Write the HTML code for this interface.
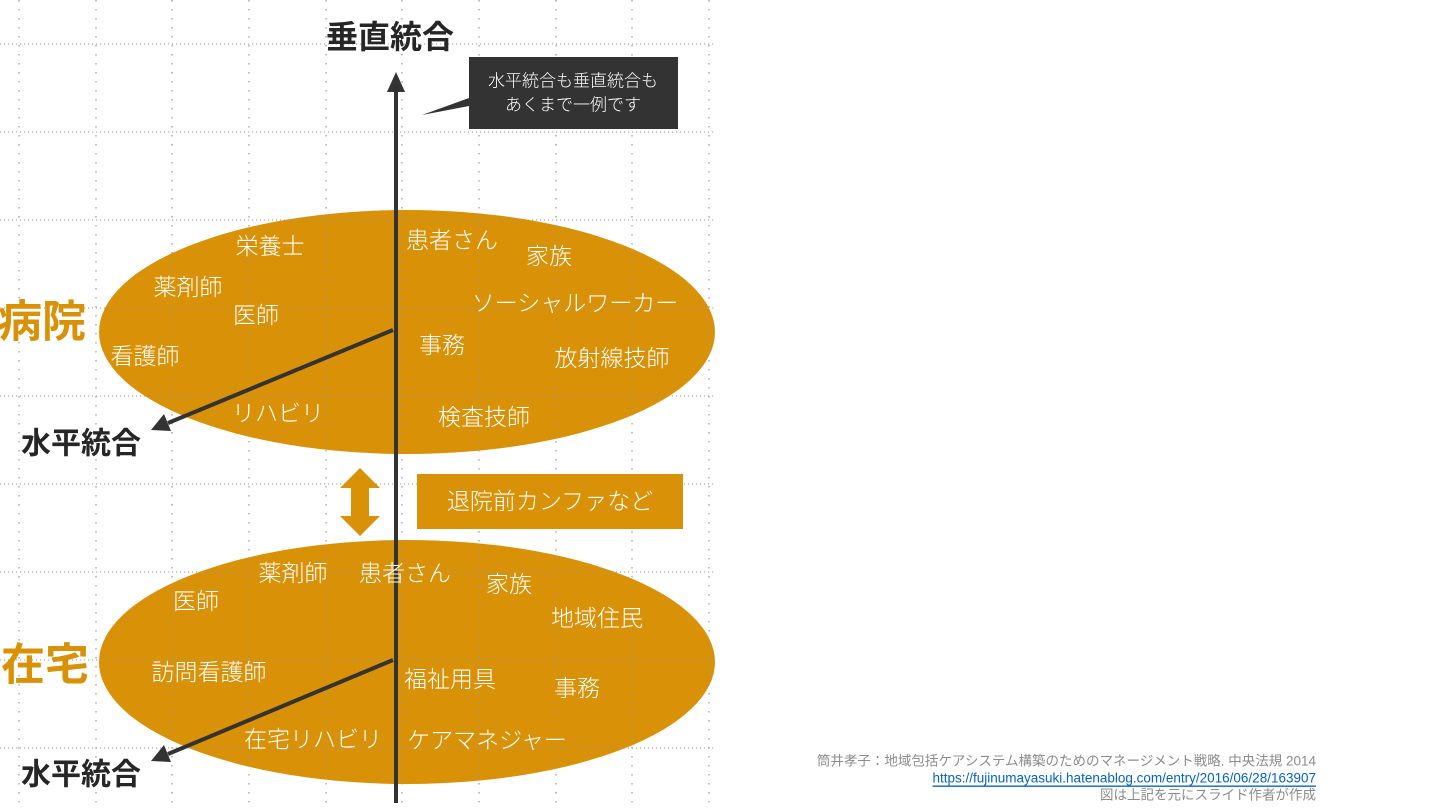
<!DOCTYPE html>
<html><head><meta charset="utf-8"><style>
html,body{margin:0;padding:0;background:#fff;}
svg{display:block;}
text{font-family:"Liberation Sans","Noto Sans CJK JP",sans-serif;}
.w{fill:#fff;font-size:23px;font-weight:300;text-anchor:middle;dominant-baseline:central;}
.b{fill:#262626;font-weight:bold;text-anchor:middle;dominant-baseline:central;}
.o{fill:#D99207;font-weight:bold;text-anchor:middle;dominant-baseline:central;font-size:44px;}
</style></head><body>
<svg width="1440" height="810" viewBox="0 0 1440 810" xmlns="http://www.w3.org/2000/svg">
<ellipse cx="407" cy="332" rx="308" ry="122" fill="#D99207"/>
<ellipse cx="407" cy="662" rx="308" ry="122" fill="#D99207"/>
<g stroke="#999" stroke-width="1.2" stroke-dasharray="1.2 2.8" opacity="0.8">
<line x1="0" y1="44" x2="715" y2="44"/><line x1="0" y1="132" x2="715" y2="132"/>
<line x1="0" y1="220" x2="715" y2="220"/><line x1="0" y1="308" x2="715" y2="308"/>
<line x1="0" y1="396" x2="715" y2="396"/><line x1="0" y1="484" x2="715" y2="484"/>
<line x1="0" y1="572" x2="715" y2="572"/><line x1="0" y1="660" x2="715" y2="660"/>
<line x1="0" y1="748" x2="715" y2="748"/>
</g>
<g stroke="#999" stroke-width="1.5" stroke-dasharray="1.5 7.5" opacity="0.8">
<line x1="19" y1="0" x2="19" y2="810"/><line x1="96" y1="0" x2="96" y2="810"/>
<line x1="172" y1="0" x2="172" y2="810"/><line x1="249" y1="0" x2="249" y2="810"/>
<line x1="326" y1="0" x2="326" y2="810"/><line x1="402" y1="0" x2="402" y2="810"/>
<line x1="479" y1="0" x2="479" y2="810"/><line x1="556" y1="0" x2="556" y2="810"/>
<line x1="632" y1="0" x2="632" y2="810"/><line x1="709" y1="0" x2="709" y2="810"/>
</g>
<line x1="396" y1="803" x2="396" y2="90" stroke="#333" stroke-width="4"/>
<path d="M387,92 L396,72 L405,92 z" fill="#333"/>
<line x1="393" y1="330" x2="168" y2="423" stroke="#333" stroke-width="4"/>
<path d="M151,430 L164,414 L171,431 z" fill="#333"/>
<line x1="393" y1="660" x2="168" y2="754" stroke="#333" stroke-width="4"/>
<path d="M151,761 L164,745 L171,762 z" fill="#333"/>
<path d="M469,57 H678 V129 H469 V106 L422,115 L469,98 z" fill="#333"/>
<text x="573" y="81" fill="#fff" font-size="17" text-anchor="middle" dominant-baseline="central" font-weight="300">水平統合も垂直統合も</text>
<text x="573" y="105" fill="#fff" font-size="17" text-anchor="middle" dominant-baseline="central" font-weight="300">あくまで一例です</text>
<path d="M360,468 L380,488 L369,488 L369,516 L380,516 L360,536 L340,516 L351,516 L351,488 L340,488 z" fill="#D99207"/>
<rect x="417" y="474" width="266" height="55" fill="#D99207"/>
<text x="550" y="501" class="w" font-size="25">退院前カンファなど</text>
<text x="390" y="37" class="b" font-size="32">垂直統合</text>
<text x="81" y="444" class="b" font-size="30">水平統合</text>
<text x="81" y="775" class="b" font-size="30">水平統合</text>
<text x="42" y="322" class="o">病院</text>
<text x="45" y="665" class="o">在宅</text>
<text x="270" y="246" class="w">栄養士</text>
<text x="452" y="240" class="w">患者さん</text>
<text x="549" y="256" class="w">家族</text>
<text x="188" y="287" class="w">薬剤師</text>
<text x="256" y="315" class="w">医師</text>
<text x="575" y="303" class="w">ソーシャルワーカー</text>
<text x="145" y="356" class="w">看護師</text>
<text x="442" y="345" class="w">事務</text>
<text x="612" y="358" class="w">放射線技師</text>
<text x="278" y="413" class="w">リハビリ</text>
<text x="484" y="417" class="w">検査技師</text>
<text x="293" y="573" class="w">薬剤師</text>
<text x="405" y="573" class="w">患者さん</text>
<text x="509" y="584" class="w">家族</text>
<text x="196" y="601" class="w">医師</text>
<text x="597" y="618" class="w">地域住民</text>
<text x="209" y="672" class="w">訪問看護師</text>
<text x="450" y="679" class="w">福祉用具</text>
<text x="577" y="688" class="w">事務</text>
<text x="313" y="739" class="w">在宅リハビリ</text>
<text x="487" y="740" class="w">ケアマネジャー</text>
<text x="1316" y="761" fill="#8c8c8c" font-size="13.5" text-anchor="end" dominant-baseline="central">筒井孝子：地域包括ケアシステム構築のためのマネージメント戦略. 中央法規 2014</text>
<text x="1316" y="778" fill="#0563C1" font-size="13.5" text-anchor="end" dominant-baseline="central" text-decoration="underline">https://fujinumayasuki.hatenablog.com/entry/2016/06/28/163907</text>
<text x="1316" y="795" fill="#8c8c8c" font-size="13.5" text-anchor="end" dominant-baseline="central">図は上記を元にスライド作者が作成</text>
</svg>
</body></html>
